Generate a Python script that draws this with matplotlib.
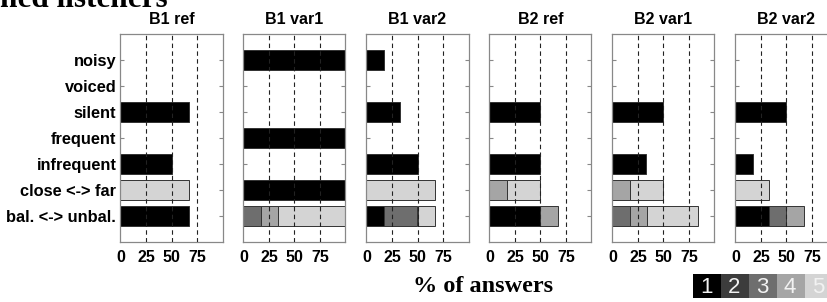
import matplotlib
matplotlib.use("Agg")
import matplotlib.pyplot as plt
import numpy as np

# rows top -> bottom, columns = rating 1..5 (% of answers)
categories = ["noisy", "voiced", "silent", "frequent", "infrequent",
              "close <-> far", "bal. <-> unbal."]
panel_titles = ["B1 ref", "B1 var1", "B1 var2", "B2 ref", "B2 var1", "B2 var2"]

b1_ref = [[0, 0, 0, 0, 0],
          [0, 0, 0, 0, 0],
          [66.7, 0, 0, 0, 0],
          [0, 0, 0, 0, 0],
          [50, 0, 0, 0, 0],
          [0, 0, 0, 0, 66.7],
          [66.7, 0, 0, 0, 0]]
b1_var1 = [[100, 0, 0, 0, 0],
           [0, 0, 0, 0, 0],
           [0, 0, 0, 0, 0],
           [100, 0, 0, 0, 0],
           [0, 0, 0, 0, 0],
           [100, 0, 0, 0, 0],
           [0, 0, 16.7, 16.7, 66.7]]
b1_var2 = [[16.7, 0, 0, 0, 0],
           [0, 0, 0, 0, 0],
           [33.3, 0, 0, 0, 0],
           [0, 0, 0, 0, 0],
           [50, 0, 0, 0, 0],
           [0, 0, 0, 0, 66.7],
           [16.7, 0, 33.3, 0, 16.7]]
b2_ref = [[0, 0, 0, 0, 0],
          [0, 0, 0, 0, 0],
          [50, 0, 0, 0, 0],
          [0, 0, 0, 0, 0],
          [50, 0, 0, 0, 0],
          [0, 0, 0, 16.7, 33.3],
          [50, 0, 0, 16.7, 0]]
b2_var1 = [[0, 0, 0, 0, 0],
           [0, 0, 0, 0, 0],
           [50, 0, 0, 0, 0],
           [0, 0, 0, 0, 0],
           [33.3, 0, 0, 0, 0],
           [0, 0, 0, 16.7, 33.3],
           [0, 0, 16.7, 16.7, 50]]
b2_var2 = [[0, 0, 0, 0, 0],
           [0, 0, 0, 0, 0],
           [50, 0, 0, 0, 0],
           [0, 0, 0, 0, 0],
           [16.7, 0, 0, 0, 0],
           [0, 0, 0, 0, 33.3],
           [33.3, 0, 16.7, 16.7, 0]]
panels = [b1_ref, b1_var1, b1_var2, b2_ref, b2_var1, b2_var2]

xticks = [0, 25, 50, 75]
rating_labels = ["1", "2", "3", "4", "5"]
colors = ["#000000", "#3c3c3c", "#6e6e6e", "#a5a5a5", "#d4d4d4"]

plt.rcParams["font.family"] = ["Liberation Sans", "DejaVu Sans"]
fs = 11.5

W, H = 828, 302
fig = plt.figure(figsize=(W / 100, H / 100), dpi=100)

lefts = [120.5, 243.5, 366.5, 489.5, 612.5, 735.5]
ax_w, ax_top, ax_bot = 102, 34, 242
ypos = np.arange(len(categories))

for i, (data, title) in enumerate(zip(panels, panel_titles)):
    ax = fig.add_axes([lefts[i] / W, 1 - ax_bot / H, ax_w / W, (ax_bot - ax_top) / H])
    vals = np.array(data)
    cum = np.zeros(len(categories))
    for k in range(5):
        for r in range(len(categories)):
            if vals[r, k] > 0:
                ax.barh(ypos[r], vals[r, k], left=cum[r], height=0.8,
                        color=colors[k], edgecolor="#333333", linewidth=0.7, zorder=2)
        cum += vals[:, k]
    for xv in xticks[1:]:
        ax.axvline(xv, color="#222222", lw=0.8, ls=(0, (4, 3)), zorder=3)
    ax.set_xlim(0, 100)
    ax.set_ylim(len(categories), -1)
    ax.set_yticks(ypos)
    ax.set_xticks(xticks)
    ax.set_xticklabels([str(t) for t in xticks], fontsize=fs, fontweight="bold")
    if i == 0:
        ax.set_yticklabels(categories, fontsize=11.8, fontweight="bold")
    else:
        ax.set_yticklabels([])
    ax.tick_params(axis="y", direction="in", length=3, right=True, color="#888888", pad=3)
    ax.tick_params(axis="x", length=0, pad=6)
    for s in ax.spines.values():
        s.set_color("#888888")
        s.set_linewidth(0.9)
    ax.set_title(title, fontsize=fs, fontweight="bold", pad=7)

fig.text(483 / W, 1 - 286 / H, "% of answers", ha="center", va="center",
         fontsize=17.5, fontweight="bold", family="Liberation Serif")
fig.text(0, 1 - 7 / H, "ned listeners", ha="left", va="baseline",
         fontsize=22.5, fontweight="bold", family="Liberation Serif")

# rating legend strip
lax = fig.add_axes([693 / W, 1 - 298 / H, 140 / W, 24 / H])
lax.bar(np.arange(5), 1, width=1, color=colors, align="edge")
for k, lab in enumerate(rating_labels):
    lax.text(k + 0.25, 0.42, lab, color="#f2f2f2", fontsize=16, ha="left", va="center")
lax.set_xlim(0, 5)
lax.set_ylim(0, 1)
lax.axis("off")

fig.savefig("out.png", dpi=100)
